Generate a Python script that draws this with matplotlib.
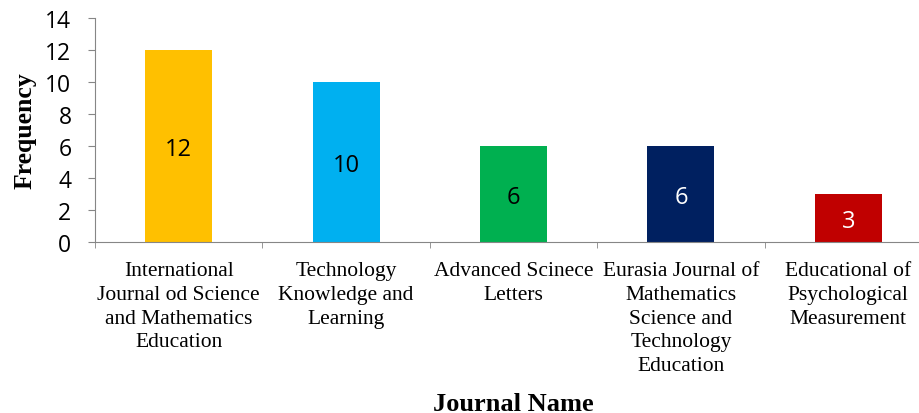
import numpy as np
import matplotlib
matplotlib.use("Agg")
import matplotlib.pyplot as plt

journals = [
    "International\nJournal od Science\nand Mathematics\nEducation",
    "Technology\nKnowledge and\nLearning",
    "Advanced Scinece\nLetters",
    "Eurasia Journal of\nMathematics\nScience and\nTechnology\nEducation",
    "Educational of\nPsychological\nMeasurement",
]
frequency = [12, 10, 6, 6, 3]
colors = ["#FFC000", "#00B0F0", "#00B050", "#002060", "#C00000"]
label_colors = ["black", "black", "black", "white", "white"]

fig = plt.figure(figsize=(9.2, 4.14), dpi=100)
# plot area runs a little past the right edge of the image, as in the original
ax = fig.add_axes([95 / 920, 1 - 243 / 414, 837 / 920, 224 / 414])

x = np.arange(len(journals))
bars = ax.bar(x, frequency, width=0.4, color=colors)
for b, v, c in zip(bars, frequency, label_colors):
    ax.text(b.get_x() + b.get_width() / 2, v / 2 - 0.2, str(v), ha="center", va="center",
            fontsize=17, color=c, family="Open Sans")

ax.set_xlim(-0.5, len(journals) - 0.5)
ax.set_ylim(0, 14)
ax.set_yticks(range(0, 15, 2))
ax.set_xticks(x)
ax.set_xticklabels(journals, family="Liberation Serif", fontsize=15.5, linespacing=1.33, va="top")
ax.tick_params(axis="x", which="major", length=0, pad=14)
ax.set_xticks(np.arange(-0.5, len(journals)), minor=True)
ax.tick_params(axis="x", which="minor", length=4, color="#868686")
ax.tick_params(axis="y", length=5, color="#868686", labelsize=16.5, pad=12)
for lab in ax.get_yticklabels():
    lab.set_family("Open Sans")

for s in ["top", "right"]:
    ax.spines[s].set_visible(False)
ax.spines["left"].set_color("#868686")
ax.spines["bottom"].set_color("#868686")

ax.set_ylabel("Frequency", family="Liberation Serif", fontsize=18.5, fontweight="bold", labelpad=6)
ax.set_xlabel("Journal Name", family="Liberation Serif", fontsize=19, fontweight="bold", labelpad=12)

fig.savefig("out.png", dpi=100)
